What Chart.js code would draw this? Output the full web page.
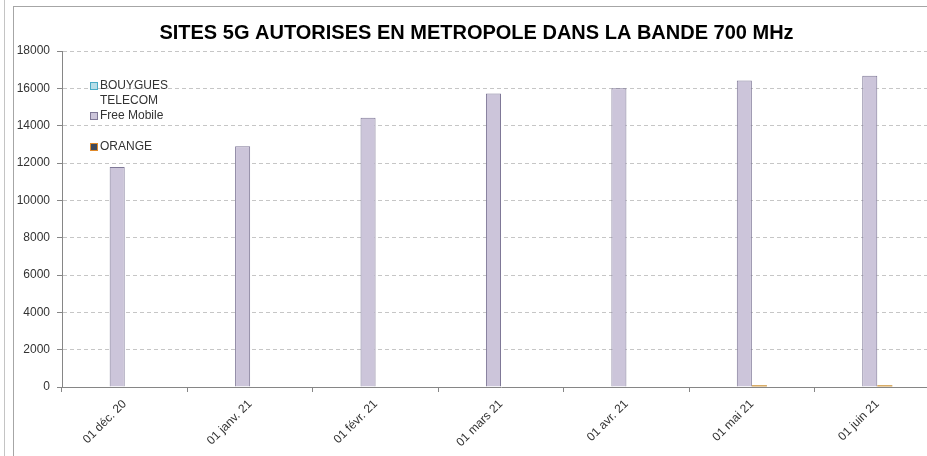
<!DOCTYPE html>
<html>
<head>
<meta charset="utf-8">
<script src="https://cdn.jsdelivr.net/npm/chart.js@4.4.0/dist/chart.umd.min.js"></script>
<style>
  html, body { margin: 0; padding: 0; background: #fff; overflow: hidden; }
  #wrap { width: 927px; height: 456px; overflow: hidden; }
</style>
</head>
<body>
<div id="wrap"><canvas id="chart" width="960" height="456"></canvas></div>
<script>
// --- Data ---
const months = ['01 déc. 20', '01 janv. 21', '01 févr. 21', '01 mars 21', '01 avr. 21', '01 mai 21', '01 juin 21'];
const bouygues = [0, 0, 0, 0, 0, 0, 0];
const freeMobile = [11780, 12900, 14420, 15720, 16000, 16420, 16680];
const orange = [0, 0, 0, 0, 0, 100, 100];
const sfr = [0, 0, 0, 0, 0, 0, 0];
const yTicks = [0, 2000, 4000, 6000, 8000, 10000, 12000, 14000, 16000, 18000];

const FONT = "'Liberation Sans', Arial, sans-serif";

// legend drawn inside the plot, like the original sheet
const legendItems = [
    { lines: ['BOUYGUES', 'TELECOM'], fill: '#b7dee8', stroke: '#4bacc6', y: 86 },
    { lines: ['Free Mobile'], fill: '#ccc5da', stroke: '#7f7897', y: 116 },
    { lines: ['ORANGE'], fill: '#3f4a5c', stroke: '#e08a2a', y: 147 }
];

const framePlugin = {
    id: 'frame',
    beforeDraw(chart) {
        const ctx = chart.ctx;
        ctx.save();
        ctx.strokeStyle = '#c4c4c4';
        ctx.lineWidth = 1;
        ctx.beginPath();
        ctx.moveTo(4.5, 0);
        ctx.lineTo(4.5, 456);
        ctx.stroke();
        ctx.strokeStyle = '#a6a6a6';
        ctx.strokeRect(13.5, 6.5, 1000, 1000);
        ctx.restore();
    },
    afterDraw(chart) {
        const ctx = chart.ctx;
        ctx.save();
        ctx.font = '12px ' + FONT;
        ctx.textBaseline = 'middle';
        ctx.textAlign = 'left';
        legendItems.forEach(item => {
            ctx.fillStyle = item.fill;
            ctx.fillRect(90.5, item.y - 3.5, 7, 7);
            ctx.strokeStyle = item.stroke;
            ctx.strokeRect(90.5, item.y - 3.5, 7, 7);
            ctx.fillStyle = '#333';
            item.lines.forEach((t, i) => ctx.fillText(t, 100, item.y + i * 15));
        });
        ctx.restore();
    }
};

new Chart(document.getElementById('chart'), {
    type: 'bar',
    data: {
        labels: months,
        datasets: [
            { label: 'BOUYGUES TELECOM', data: bouygues, backgroundColor: '#b7dee8', borderColor: '#4bacc6', borderWidth: 1 },
            { label: 'Free Mobile', data: freeMobile, backgroundColor: '#ccc5da', borderColor: '#7f7897', borderWidth: 1 },
            { label: 'ORANGE', data: orange, backgroundColor: '#d2a050', borderWidth: 0 },
            { label: 'SFR', data: sfr, backgroundColor: '#c0504d', borderWidth: 0 }
        ]
    },
    options: {
        responsive: false,
        animation: false,
        layout: { padding: { left: 13, right: 20, top: 6, bottom: 0 } },
        datasets: { bar: { categoryPercentage: 0.48, barPercentage: 1.0, borderSkipped: 'bottom' } },
        plugins: {
            legend: { display: false },
            tooltip: { enabled: false },
            title: {
                display: true,
                text: 'SITES 5G AUTORISES EN METROPOLE DANS LA BANDE 700 MHz',
                color: '#000',
                font: { family: FONT, size: 20, weight: 'bold' },
                padding: { top: 15, bottom: 6 }
            }
        },
        scales: {
            x: {
                offset: true,
                grid: {
                    offset: true,
                    drawOnChartArea: false,
                    drawTicks: true,
                    tickLength: 5,
                    tickColor: '#868686'
                },
                border: { color: '#868686', width: 1 },
                ticks: {
                    minRotation: 45,
                    maxRotation: 45,
                    padding: 5,
                    color: '#333',
                    font: { family: FONT, size: 12 }
                },
                afterFit(scale) { scale.height = 69; }
            },
            y: {
                min: 0,
                max: 18000,
                afterBuildTicks(scale) { scale.ticks = yTicks.map(v => ({ value: v })); },
                grid: {
                    color: '#c6c6c6',
                    lineWidth: 1,
                    tickLength: 5,
                    tickColor: '#868686',
                    tickBorderDash: [],
                    tickBorderDashOffset: 0
                },
                border: { color: '#868686', width: 1, dash: [4, 3] },
                ticks: {
                    padding: 7,
                    color: '#333',
                    font: { family: FONT, size: 12 },
                    callback: v => String(v)
                },
                afterFit(scale) { scale.width = 49; }
            }
        }
    },
    plugins: [framePlugin]
});
</script>
</body>
</html>
